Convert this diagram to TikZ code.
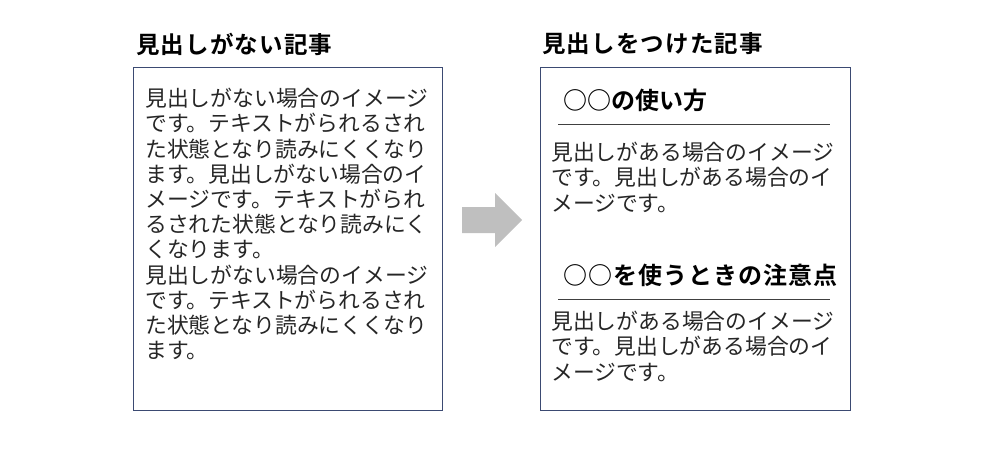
\documentclass[tikz,border=0pt]{standalone}
\usepackage{fontspec}
\setmainfont{Noto Sans CJK JP}[BoldFont={* Bold}]
\usetikzlibrary{positioning}
\definecolor{boxline}{HTML}{3B4A72}
\definecolor{arrowgray}{HTML}{BFBFBF}
\definecolor{textgray}{HTML}{262626}
\definecolor{rulegray}{HTML}{404040}
\tikzset{
  title/.style={anchor=west, inner sep=0pt, text=black,
    font=\bfseries\fontsize{23.5}{27}\selectfont\addfontfeature{LetterSpace=5}},
  body/.style={anchor=north west, inner sep=0pt, align=left, text=textgray,
    font=\fontsize{21.8}{25.2}\selectfont},
  heading/.style={anchor=west, inner sep=0pt, text=black,
    font=\bfseries\fontsize{24}{28}\selectfont},
  article/.style={draw=boxline, line width=0.8pt, anchor=north west,
    minimum width=309, minimum height=343, inner sep=0pt},
  rule/.style={draw=rulegray, line width=0.8pt}
}
\setlength{\lineskiplimit}{-50pt}
\begin{document}
\begin{tikzpicture}[x=1pt,y=-1pt]
  \useasboundingbox (0,0) rectangle (1000,450);
  % left: article without headings
  \node[title] (plaintitle) at (136,44) {見出しがない記事};
  \node[article] (plainbox) at (133,67) {};
  \node[body] (plaintext) at (145,88) {見出しがない場合のイメージ\\
    です。テキストがられるされ\\
    た状態となり読みにくくなり\\
    ます。見出しがない場合のイ\\
    メージです。テキストがられ\\
    るされた状態となり読みにく\\
    くなります。\\
    見出しがない場合のイメージ\\
    です。テキストがられるされ\\
    た状態となり読みにくくなり\\
    ます。};
  % arrow between the two articles
  \fill[arrowgray] (462,207) -- (495,207) -- (495,193) -- (522,220)
    -- (495,247) -- (495,233) -- (462,233) -- cycle;
  % right: article with headings
  \node[title] (headtitle) at (542,44) {見出しをつけた記事};
  \node[article, minimum width=310] (headbox) at (540,67) {};
  \node[heading] (usage) at (563,100) {○○の使い方};
  \draw[rule] (558,124) -- (830,124);
  \node[body] (usagetext) at (551,142) {見出しがある場合のイメージ\\
    です。見出しがある場合のイ\\
    メージです。};
  \node[heading, font=\bfseries\fontsize{24}{28}\selectfont\addfontfeature{LetterSpace=4.5}]
    (caution) at (563,275) {○○を使うときの注意点};
  \draw[rule] (558,299) -- (830,299);
  \node[body] (cautiontext) at (551,311) {見出しがある場合のイメージ\\
    です。見出しがある場合のイ\\
    メージです。};
\end{tikzpicture}
\end{document}
